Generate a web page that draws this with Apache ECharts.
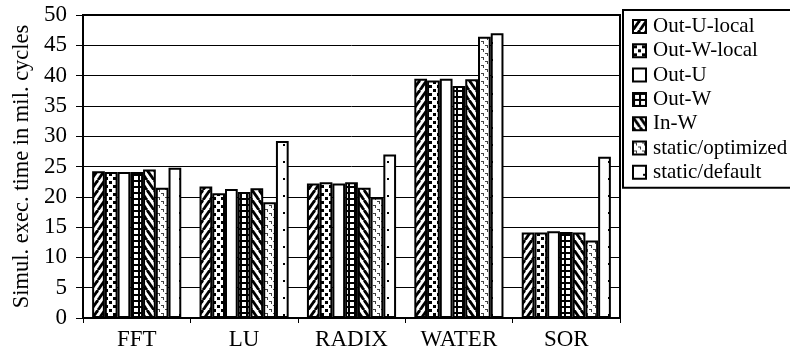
<!DOCTYPE html>
<html>
<head>
<meta charset="utf-8">
<script src="https://cdn.jsdelivr.net/npm/echarts@6/dist/echarts.min.js"></script>
<style>
html, body { margin: 0; padding: 0; background: #fff; }
#chart { width: 790px; height: 356px; }
</style>
</head>
<body>
<div id="chart"></div>
<script>
var categories = ['FFT', 'LU', 'RADIX', 'WATER', 'SOR'];
var seriesNames = ['Out-U-local', 'Out-W-local', 'Out-U', 'Out-W', 'In-W', 'static/optimized', 'static/default'];
var outULocal = [24.2, 21.7, 22.2, 39.5, 14.1];
var outWLocal = [24.1, 20.6, 22.4, 39.2, 14.1];
var outU = [24.1, 21.3, 22.2, 39.5, 14.3];
var outW = [24.1, 20.8, 22.4, 38.3, 14.2];
var inW = [24.5, 21.4, 21.5, 39.4, 14.1];
var staticOpt = [21.5, 19.1, 19.9, 46.4, 12.8];
var staticDef = [24.8, 29.2, 27.0, 47.0, 26.6];
var yTicks = [0, 5, 10, 15, 20, 25, 30, 35, 40, 45, 50];

// small canvas tiles used as fill patterns
function tile(w, h, draw) {
    var c = document.createElement('canvas');
    c.width = w; c.height = h;
    var ctx = c.getContext('2d');
    ctx.fillStyle = '#fff';
    ctx.fillRect(0, 0, w, h);
    ctx.fillStyle = '#000';
    ctx.strokeStyle = '#000';
    draw(ctx, w, h);
    return { image: c, repeat: 'repeat' };
}
function diag(ctx, w, h, back) {
    ctx.lineWidth = 2.8;
    for (var k = -1; k <= 1; k++) {
        ctx.beginPath();
        if (back) { ctx.moveTo(k * w, 0); ctx.lineTo(w + k * w, h); }
        else { ctx.moveTo(k * w, h); ctx.lineTo(w + k * w, 0); }
        ctx.stroke();
    }
}
var fills = [
    tile(7, 10, function(ctx, w, h) { diag(ctx, w, h, false); }),
    tile(8, 8, function(ctx) { ctx.fillRect(1, 1, 3, 3); ctx.fillRect(5, 5, 3, 3); }),
    '#fff',
    tile(6, 6, function(ctx) { ctx.fillRect(0, 0, 6, 2); ctx.fillRect(0, 0, 2, 6); }),
    tile(7, 10, function(ctx, w, h) { diag(ctx, w, h, true); }),
    tile(8, 8, function(ctx) {
        ctx.fillStyle = '#444';
        ctx.fillRect(1, 1, 3, 1); ctx.fillRect(3, 2, 1, 2);
        ctx.fillRect(5, 5, 3, 1); ctx.fillRect(7, 6, 1, 2);
    }),
    tile(13, 17, function(ctx) { ctx.fillRect(10, 8, 2, 2); })
];
var seriesData = [outULocal, outWLocal, outU, outW, inW, staticOpt, staticDef];

var series = seriesNames.map(function(name, i) {
    return {
        name: name,
        type: 'bar',
        data: seriesData[i],
        barGap: '0%',
        barCategoryGap: '17%',
        itemStyle: { color: fills[i], borderColor: '#000', borderWidth: 2 }
    };
});

var chart = echarts.init(document.getElementById('chart'));
chart.setOption({
    backgroundColor: '#fff',
    animation: false,
    textStyle: { fontFamily: 'Liberation Serif' },
    legend: {
        orient: 'vertical',
        left: 623,
        top: 10,
        padding: [6, 40, 5, 9],
        itemGap: 3.3,
        itemWidth: 13,
        itemHeight: 13,
        icon: 'rect',
        borderColor: '#000',
        borderWidth: 2,
        textStyle: { fontFamily: 'Liberation Serif', fontSize: 21, lineHeight: 21, color: '#000', padding: [0, 0, 0, 2] },
        data: seriesNames
    },
    grid: {
        left: 83, right: 170, top: 15, bottom: 38,
        show: true, borderColor: '#000', borderWidth: 2
    },
    xAxis: {
        type: 'category',
        data: categories,
        axisLine: { lineStyle: { color: '#000', width: 2 } },
        axisTick: { show: true, length: 5, lineStyle: { color: '#000' } },
        axisLabel: { color: '#000', fontSize: 23, fontFamily: 'Liberation Serif', margin: 10 }
    },
    yAxis: {
        type: 'value',
        min: yTicks[0],
        max: yTicks[yTicks.length - 1],
        interval: 5,
        name: 'Simul. exec. time in mil. cycles',
        nameLocation: 'middle',
        nameGap: 41,
        nameTextStyle: { color: '#000', fontSize: 22.5, fontFamily: 'Liberation Serif' },
        axisLine: { show: true, lineStyle: { color: '#000', width: 2 } },
        axisTick: { show: true, length: 7, lineStyle: { color: '#000' } },
        axisLabel: { color: '#000', fontSize: 23, fontFamily: 'Liberation Serif', margin: 16 },
        splitLine: { lineStyle: { color: '#000', width: 1 } }
    },
    series: series
});
</script>
</body>
</html>
